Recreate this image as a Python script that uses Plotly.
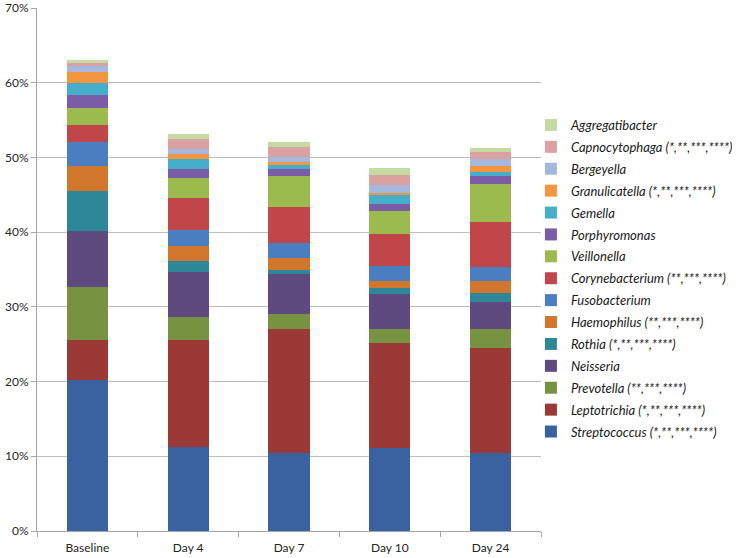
import plotly.graph_objects as go

categories = ["Baseline", "Day 4", "Day 7", "Day 10", "Day 24"]

series_names = [
    "Streptococcus (*,**,***,****)",
    "Leptotrichia (*,**,***,****)",
    "Prevotella (**,***,****)",
    "Neisseria",
    "Rothia (*,**,***,****)",
    "Haemophilus (**,***,****)",
    "Fusobacterium",
    "Corynebacterium (**,***,****)",
    "Veillonella",
    "Porphyromonas",
    "Gemella",
    "Granulicatella (*,**,***,****)",
    "Bergeyella",
    "Capnocytophaga (*,**,***,****)",
    "Aggregatibacter",
]

# relative abundance (%) per category
streptococcus = [20.2, 11.2, 10.5, 11.1, 10.5]
leptotrichia = [5.3, 14.4, 16.6, 14.0, 14.0]
prevotella = [7.1, 3.0, 1.9, 1.9, 2.6]
neisseria = [7.5, 6.1, 5.4, 4.7, 3.6]
rothia = [5.4, 1.4, 0.6, 0.8, 1.2]
haemophilus = [3.4, 2.0, 1.5, 1.0, 1.6]
fusobacterium = [3.1, 2.2, 2.1, 2.0, 1.8]
corynebacterium = [2.4, 4.3, 4.7, 4.3, 6.1]
veillonella = [2.2, 2.6, 4.2, 3.0, 5.0]
porphyromonas = [1.8, 1.3, 1.0, 1.0, 1.1]
gemella = [1.5, 1.3, 0.5, 1.2, 0.6]
granulicatella = [1.5, 0.7, 0.4, 0.2, 0.7]
bergeyella = [0.8, 0.6, 0.6, 1.1, 1.0]
capnocytophaga = [0.4, 1.4, 1.4, 1.3, 0.9]
aggregatibacter = [0.5, 0.6, 0.6, 1.0, 0.55]

series_values = [
    streptococcus, leptotrichia, prevotella, neisseria, rothia, haemophilus,
    fusobacterium, corynebacterium, veillonella, porphyromonas, gemella,
    granulicatella, bergeyella, capnocytophaga, aggregatibacter,
]

colors = [
    "#3A62A0", "#9A3936", "#779342", "#5F4A80", "#2E8799", "#D0762D",
    "#4A7EC0", "#C0464A", "#9BBB4E", "#7B5CA6", "#44AECB", "#F4963F",
    "#A4B8DE", "#DBA0A0", "#C5D9A3",
]

fig = go.Figure()
n = len(series_names)
for i, (name, vals, col) in enumerate(zip(series_names, series_values, colors)):
    fig.add_trace(go.Bar(
        x=categories,
        y=[v / 100 for v in vals],
        name="<i>" + name + "</i>",
        marker=dict(color=col, line=dict(width=0)),
        legendgroup=name,
        legendrank=100 + (n - i),
    ))

fig.update_layout(
    width=751, height=558,
    barmode="stack",
    bargap=0.59,
    plot_bgcolor="white",
    paper_bgcolor="white",
    margin=dict(l=37, r=210, t=8, b=27, autoexpand=False),
    font=dict(family="Lato, Carlito, sans-serif", size=11, color="#262626"),
    legend=dict(
        traceorder="grouped",
        x=0.98, xanchor="left",
        y=0.805, yanchor="top",
        font=dict(size=13, color="#1a1a1a"),
        tracegroupgap=2,
        itemwidth=30,
        bgcolor="rgba(0,0,0,0)",
    ),
    xaxis=dict(
        showline=True, linecolor="#A6A6A6", linewidth=1,
        ticks="outside", tickson="boundaries", ticklen=5, tickcolor="#A6A6A6",
        tickfont=dict(size=12, color="#262626"),
        ticklabelstandoff=6,
        showgrid=False, automargin=False,
    ),
    yaxis=dict(
        range=[0, 0.7], dtick=0.1, tickformat=".0%",
        showline=True, linecolor="#A6A6A6", linewidth=1,
        ticks="outside", ticklen=5, tickcolor="#A6A6A6",
        gridcolor="#BFBFBF", gridwidth=1,
        tickfont=dict(size=12, color="#262626"),
        zeroline=False, automargin=False,
    ),
)

fig.write_html(
    "out.html",
    config={"displayModeBar": False},
    post_script="document.body.style.margin='0px';",
)
